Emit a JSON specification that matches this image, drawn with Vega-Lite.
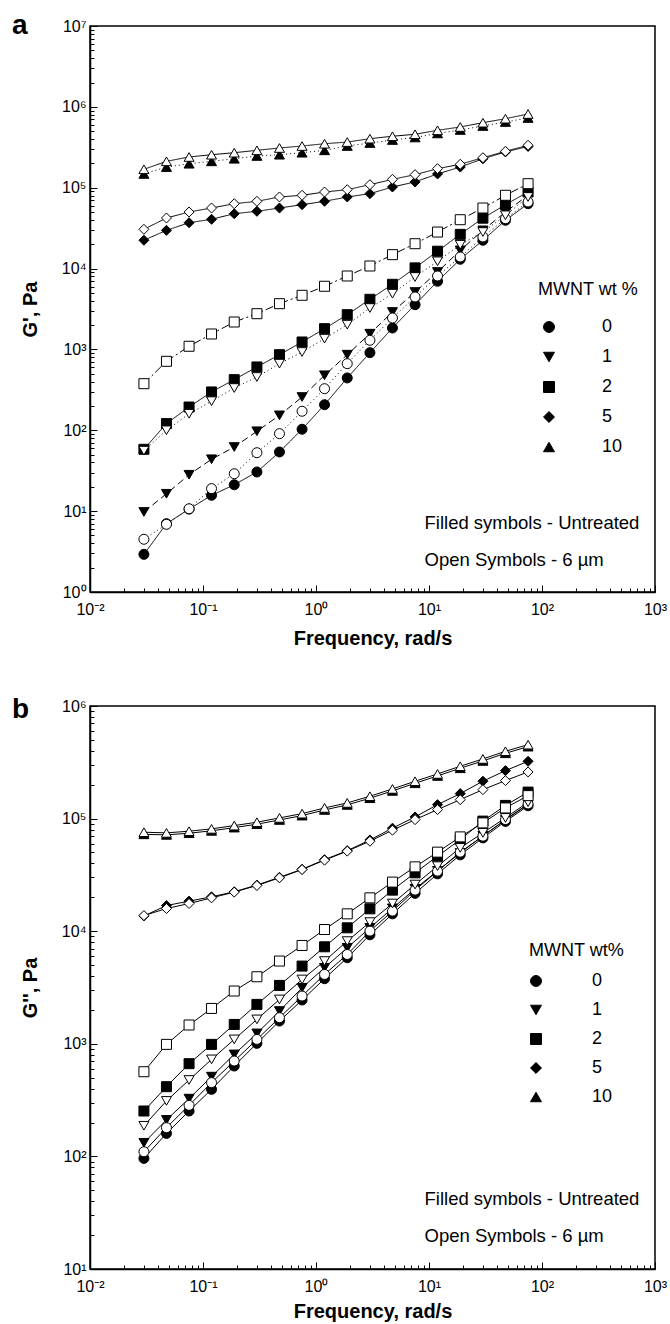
{
"$schema": "https://vega.github.io/schema/vega-lite/v6.json",
"background": "white",
"padding": {"left": 11, "top": 11, "right": 2, "bottom": 2},
"spacing": 46,
"config": {
  "view": {"stroke": "black", "strokeWidth": 1.5},
  "font": "Liberation Sans",
  "axis": {"labelFont": "Liberation Sans", "labelFontSize": 16, "labelColor": "black", "titleFont": "Liberation Sans", "titleFontSize": 20, "titleFontWeight": "bold", "titleColor": "black", "domainColor": "black", "domainWidth": 1.5, "tickColor": "black", "tickWidth": 1, "grid": false, "labelOverlap": false, "labelFlush": false},
  "legend": {"titleFont": "Liberation Sans", "labelFont": "Liberation Sans", "titleColor": "black", "labelColor": "black", "titleFontWeight": "normal", "padding": 0}
},
"datasets": {
"a": [
{"series":"0U","wt":"0","sym":"Untreated","f":0.03,"G":2.92},{"series":"0U","wt":"0","sym":"Untreated","f":0.0475,"G":7.0},{"series":"0U","wt":"0","sym":"Untreated","f":0.0753,"G":10.6},{"series":"0U","wt":"0","sym":"Untreated","f":0.119,"G":15.7},{"series":"0U","wt":"0","sym":"Untreated","f":0.189,"G":21.2},{"series":"0U","wt":"0","sym":"Untreated","f":0.3,"G":30.5},{"series":"0U","wt":"0","sym":"Untreated","f":0.475,"G":53.9},{"series":"0U","wt":"0","sym":"Untreated","f":0.753,"G":103},{"series":"0U","wt":"0","sym":"Untreated","f":1.19,"G":207},{"series":"0U","wt":"0","sym":"Untreated","f":1.89,"G":444},{"series":"0U","wt":"0","sym":"Untreated","f":3,"G":912},{"series":"0U","wt":"0","sym":"Untreated","f":4.75,"G":1841},{"series":"0U","wt":"0","sym":"Untreated","f":7.53,"G":3574},{"series":"0U","wt":"0","sym":"Untreated","f":11.9,"G":6966},{"series":"0U","wt":"0","sym":"Untreated","f":18.9,"G":13030},{"series":"0U","wt":"0","sym":"Untreated","f":30,"G":22390},{"series":"0U","wt":"0","sym":"Untreated","f":47.5,"G":39550},{"series":"0U","wt":"0","sym":"Untreated","f":75.3,"G":63440},
{"series":"1U","wt":"1","sym":"Untreated","f":0.03,"G":9.77},{"series":"1U","wt":"1","sym":"Untreated","f":0.0475,"G":16.4},{"series":"1U","wt":"1","sym":"Untreated","f":0.0753,"G":28.2},{"series":"1U","wt":"1","sym":"Untreated","f":0.119,"G":43.8},{"series":"1U","wt":"1","sym":"Untreated","f":0.189,"G":62.1},{"series":"1U","wt":"1","sym":"Untreated","f":0.3,"G":97.2},{"series":"1U","wt":"1","sym":"Untreated","f":0.475,"G":153},{"series":"1U","wt":"1","sym":"Untreated","f":0.753,"G":258},{"series":"1U","wt":"1","sym":"Untreated","f":1.19,"G":479},{"series":"1U","wt":"1","sym":"Untreated","f":1.89,"G":861},{"series":"1U","wt":"1","sym":"Untreated","f":3,"G":1566},{"series":"1U","wt":"1","sym":"Untreated","f":4.75,"G":2904},{"series":"1U","wt":"1","sym":"Untreated","f":7.53,"G":5130},{"series":"1U","wt":"1","sym":"Untreated","f":11.9,"G":9070},{"series":"1U","wt":"1","sym":"Untreated","f":18.9,"G":16800},{"series":"1U","wt":"1","sym":"Untreated","f":30,"G":29700},{"series":"1U","wt":"1","sym":"Untreated","f":47.5,"G":50100},{"series":"1U","wt":"1","sym":"Untreated","f":75.3,"G":80600},
{"series":"2U","wt":"2","sym":"Untreated","f":0.03,"G":58.2},{"series":"2U","wt":"2","sym":"Untreated","f":0.0475,"G":121},{"series":"2U","wt":"2","sym":"Untreated","f":0.0753,"G":194},{"series":"2U","wt":"2","sym":"Untreated","f":0.119,"G":298},{"series":"2U","wt":"2","sym":"Untreated","f":0.189,"G":423},{"series":"2U","wt":"2","sym":"Untreated","f":0.3,"G":607},{"series":"2U","wt":"2","sym":"Untreated","f":0.475,"G":861},{"series":"2U","wt":"2","sym":"Untreated","f":0.753,"G":1236},{"series":"2U","wt":"2","sym":"Untreated","f":1.19,"G":1806},{"series":"2U","wt":"2","sym":"Untreated","f":1.89,"G":2690},{"series":"2U","wt":"2","sym":"Untreated","f":3,"G":4170},{"series":"2U","wt":"2","sym":"Untreated","f":4.75,"G":6390},{"series":"2U","wt":"2","sym":"Untreated","f":7.53,"G":10200},{"series":"2U","wt":"2","sym":"Untreated","f":11.9,"G":16400},{"series":"2U","wt":"2","sym":"Untreated","f":18.9,"G":26500},{"series":"2U","wt":"2","sym":"Untreated","f":30,"G":42000},{"series":"2U","wt":"2","sym":"Untreated","f":47.5,"G":61700},{"series":"2U","wt":"2","sym":"Untreated","f":75.3,"G":88500},
{"series":"5U","wt":"5","sym":"Untreated","f":0.03,"G":22400},{"series":"5U","wt":"5","sym":"Untreated","f":0.0475,"G":29700},{"series":"5U","wt":"5","sym":"Untreated","f":0.0753,"G":36900},{"series":"5U","wt":"5","sym":"Untreated","f":0.119,"G":40700},{"series":"5U","wt":"5","sym":"Untreated","f":0.189,"G":47700},{"series":"5U","wt":"5","sym":"Untreated","f":0.3,"G":51100},{"series":"5U","wt":"5","sym":"Untreated","f":0.475,"G":56100},{"series":"5U","wt":"5","sym":"Untreated","f":0.753,"G":61700},{"series":"5U","wt":"5","sym":"Untreated","f":1.19,"G":67900},{"series":"5U","wt":"5","sym":"Untreated","f":1.89,"G":76800},{"series":"5U","wt":"5","sym":"Untreated","f":3,"G":84400},{"series":"5U","wt":"5","sym":"Untreated","f":4.75,"G":102000},{"series":"5U","wt":"5","sym":"Untreated","f":7.53,"G":118000},{"series":"5U","wt":"5","sym":"Untreated","f":11.9,"G":148000},{"series":"5U","wt":"5","sym":"Untreated","f":18.9,"G":180000},{"series":"5U","wt":"5","sym":"Untreated","f":30,"G":228000},{"series":"5U","wt":"5","sym":"Untreated","f":47.5,"G":277000},{"series":"5U","wt":"5","sym":"Untreated","f":75.3,"G":324000},
{"series":"10U","wt":"10","sym":"Untreated","f":0.03,"G":148000},{"series":"10U","wt":"10","sym":"Untreated","f":0.0475,"G":180000},{"series":"10U","wt":"10","sym":"Untreated","f":0.0753,"G":198000},{"series":"10U","wt":"10","sym":"Untreated","f":0.119,"G":212000},{"series":"10U","wt":"10","sym":"Untreated","f":0.189,"G":228000},{"series":"10U","wt":"10","sym":"Untreated","f":0.3,"G":247000},{"series":"10U","wt":"10","sym":"Untreated","f":0.475,"G":256000},{"series":"10U","wt":"10","sym":"Untreated","f":0.753,"G":271000},{"series":"10U","wt":"10","sym":"Untreated","f":1.19,"G":290000},{"series":"10U","wt":"10","sym":"Untreated","f":1.89,"G":328000},{"series":"10U","wt":"10","sym":"Untreated","f":3,"G":357000},{"series":"10U","wt":"10","sym":"Untreated","f":4.75,"G":389000},{"series":"10U","wt":"10","sym":"Untreated","f":7.53,"G":418000},{"series":"10U","wt":"10","sym":"Untreated","f":11.9,"G":469000},{"series":"10U","wt":"10","sym":"Untreated","f":18.9,"G":518000},{"series":"10U","wt":"10","sym":"Untreated","f":30,"G":580000},{"series":"10U","wt":"10","sym":"Untreated","f":47.5,"G":650000},{"series":"10U","wt":"10","sym":"Untreated","f":75.3,"G":728000},
{"series":"0O","wt":"0","sym":"6 µm","f":0.03,"G":4.49},{"series":"0O","wt":"0","sym":"6 µm","f":0.0475,"G":6.87},{"series":"0O","wt":"0","sym":"6 µm","f":0.0753,"G":10.7},{"series":"0O","wt":"0","sym":"6 µm","f":0.119,"G":19.0},{"series":"0O","wt":"0","sym":"6 µm","f":0.189,"G":29.0},{"series":"0O","wt":"0","sym":"6 µm","f":0.3,"G":52.8},{"series":"0O","wt":"0","sym":"6 µm","f":0.475,"G":90.8},{"series":"0O","wt":"0","sym":"6 µm","f":0.753,"G":172},{"series":"0O","wt":"0","sym":"6 µm","f":1.19,"G":327},{"series":"0O","wt":"0","sym":"6 µm","f":1.89,"G":667},{"series":"0O","wt":"0","sym":"6 µm","f":3,"G":1297},{"series":"0O","wt":"0","sym":"6 µm","f":4.75,"G":2449},{"series":"0O","wt":"0","sym":"6 µm","f":7.53,"G":4456},{"series":"0O","wt":"0","sym":"6 µm","f":11.9,"G":8095},{"series":"0O","wt":"0","sym":"6 µm","f":18.9,"G":13900},{"series":"0O","wt":"0","sym":"6 µm","f":30,"G":24600},{"series":"0O","wt":"0","sym":"6 µm","f":47.5,"G":41400},{"series":"0O","wt":"0","sym":"6 µm","f":75.3,"G":66600},
{"series":"1O","wt":"1","sym":"6 µm","f":0.03,"G":56},{"series":"1O","wt":"1","sym":"6 µm","f":0.0475,"G":100},{"series":"1O","wt":"1","sym":"6 µm","f":0.0753,"G":160},{"series":"1O","wt":"1","sym":"6 µm","f":0.119,"G":229},{"series":"1O","wt":"1","sym":"6 µm","f":0.189,"G":333},{"series":"1O","wt":"1","sym":"6 µm","f":0.3,"G":456},{"series":"1O","wt":"1","sym":"6 µm","f":0.475,"G":667},{"series":"1O","wt":"1","sym":"6 µm","f":0.753,"G":929},{"series":"1O","wt":"1","sym":"6 µm","f":1.19,"G":1358},{"series":"1O","wt":"1","sym":"6 µm","f":1.89,"G":2023},{"series":"1O","wt":"1","sym":"6 µm","f":3,"G":3252},{"series":"1O","wt":"1","sym":"6 µm","f":4.75,"G":4890},{"series":"1O","wt":"1","sym":"6 µm","f":7.53,"G":7870},{"series":"1O","wt":"1","sym":"6 µm","f":11.9,"G":12300},{"series":"1O","wt":"1","sym":"6 µm","f":18.9,"G":19700},{"series":"1O","wt":"1","sym":"6 µm","f":30,"G":28300},{"series":"1O","wt":"1","sym":"6 µm","f":47.5,"G":45600},{"series":"1O","wt":"1","sym":"6 µm","f":75.3,"G":76800},
{"series":"2O","wt":"2","sym":"6 µm","f":0.03,"G":377},{"series":"2O","wt":"2","sym":"6 µm","f":0.0475,"G":713},{"series":"2O","wt":"2","sym":"6 µm","f":0.0753,"G":1094},{"series":"2O","wt":"2","sym":"6 µm","f":0.119,"G":1552},{"series":"2O","wt":"2","sym":"6 µm","f":0.189,"G":2183},{"series":"2O","wt":"2","sym":"6 µm","f":0.3,"G":2767},{"series":"2O","wt":"2","sym":"6 µm","f":0.475,"G":3680},{"series":"2O","wt":"2","sym":"6 µm","f":0.753,"G":4673},{"series":"2O","wt":"2","sym":"6 µm","f":1.19,"G":6040},{"series":"2O","wt":"2","sym":"6 µm","f":1.89,"G":8095},{"series":"2O","wt":"2","sym":"6 µm","f":3,"G":10760},{"series":"2O","wt":"2","sym":"6 µm","f":4.75,"G":14860},{"series":"2O","wt":"2","sym":"6 µm","f":7.53,"G":20300},{"series":"2O","wt":"2","sym":"6 µm","f":11.9,"G":28300},{"series":"2O","wt":"2","sym":"6 µm","f":18.9,"G":40200},{"series":"2O","wt":"2","sym":"6 µm","f":30,"G":56100},{"series":"2O","wt":"2","sym":"6 µm","f":47.5,"G":80600},{"series":"2O","wt":"2","sym":"6 µm","f":75.3,"G":112200},
{"series":"5O","wt":"5","sym":"6 µm","f":0.03,"G":30600},{"series":"5O","wt":"5","sym":"6 µm","f":0.0475,"G":42200},{"series":"5O","wt":"5","sym":"6 µm","f":0.0753,"G":50100},{"series":"5O","wt":"5","sym":"6 µm","f":0.119,"G":56100},{"series":"5O","wt":"5","sym":"6 µm","f":0.189,"G":63400},{"series":"5O","wt":"5","sym":"6 µm","f":0.3,"G":67900},{"series":"5O","wt":"5","sym":"6 µm","f":0.475,"G":76800},{"series":"5O","wt":"5","sym":"6 µm","f":0.753,"G":80600},{"series":"5O","wt":"5","sym":"6 µm","f":1.19,"G":88500},{"series":"5O","wt":"5","sym":"6 µm","f":1.89,"G":94600},{"series":"5O","wt":"5","sym":"6 µm","f":3,"G":109000},{"series":"5O","wt":"5","sym":"6 µm","f":4.75,"G":127000},{"series":"5O","wt":"5","sym":"6 µm","f":7.53,"G":145000},{"series":"5O","wt":"5","sym":"6 µm","f":11.9,"G":172000},{"series":"5O","wt":"5","sym":"6 µm","f":18.9,"G":195000},{"series":"5O","wt":"5","sym":"6 µm","f":30,"G":235000},{"series":"5O","wt":"5","sym":"6 µm","f":47.5,"G":282000},{"series":"5O","wt":"5","sym":"6 µm","f":75.3,"G":335000},
{"series":"10O","wt":"10","sym":"6 µm","f":0.03,"G":169000},{"series":"10O","wt":"10","sym":"6 µm","f":0.0475,"G":212000},{"series":"10O","wt":"10","sym":"6 µm","f":0.0753,"G":240000},{"series":"10O","wt":"10","sym":"6 µm","f":0.119,"G":256000},{"series":"10O","wt":"10","sym":"6 µm","f":0.189,"G":271000},{"series":"10O","wt":"10","sym":"6 µm","f":0.3,"G":290000},{"series":"10O","wt":"10","sym":"6 µm","f":0.475,"G":310000},{"series":"10O","wt":"10","sym":"6 µm","f":0.753,"G":328000},{"series":"10O","wt":"10","sym":"6 µm","f":1.19,"G":350000},{"series":"10O","wt":"10","sym":"6 µm","f":1.89,"G":367000},{"series":"10O","wt":"10","sym":"6 µm","f":3,"G":404000},{"series":"10O","wt":"10","sym":"6 µm","f":4.75,"G":433000},{"series":"10O","wt":"10","sym":"6 µm","f":7.53,"G":458000},{"series":"10O","wt":"10","sym":"6 µm","f":11.9,"G":513000},{"series":"10O","wt":"10","sym":"6 µm","f":18.9,"G":564000},{"series":"10O","wt":"10","sym":"6 µm","f":30,"G":637000},{"series":"10O","wt":"10","sym":"6 µm","f":47.5,"G":714000},{"series":"10O","wt":"10","sym":"6 µm","f":75.3,"G":816000}
],
"b": [
{"series":"0U","wt":"0","sym":"Untreated","f":0.03,"G":96},{"series":"0U","wt":"0","sym":"Untreated","f":0.0475,"G":160},{"series":"0U","wt":"0","sym":"Untreated","f":0.0753,"G":253},{"series":"0U","wt":"0","sym":"Untreated","f":0.119,"G":394},{"series":"0U","wt":"0","sym":"Untreated","f":0.189,"G":635},{"series":"0U","wt":"0","sym":"Untreated","f":0.3,"G":1009},{"series":"0U","wt":"0","sym":"Untreated","f":0.475,"G":1592},{"series":"0U","wt":"0","sym":"Untreated","f":0.753,"G":2449},{"series":"0U","wt":"0","sym":"Untreated","f":1.19,"G":3784},{"series":"0U","wt":"0","sym":"Untreated","f":1.89,"G":5810},{"series":"0U","wt":"0","sym":"Untreated","f":3,"G":9290},{"series":"0U","wt":"0","sym":"Untreated","f":4.75,"G":14260},{"series":"0U","wt":"0","sym":"Untreated","f":7.53,"G":21680},{"series":"0U","wt":"0","sym":"Untreated","f":11.9,"G":32300},{"series":"0U","wt":"0","sym":"Untreated","f":18.9,"G":47640},{"series":"0U","wt":"0","sym":"Untreated","f":30,"G":67400},{"series":"0U","wt":"0","sym":"Untreated","f":47.5,"G":94400},{"series":"0U","wt":"0","sym":"Untreated","f":75.3,"G":130000},
{"series":"1U","wt":"1","sym":"Untreated","f":0.03,"G":132},{"series":"1U","wt":"1","sym":"Untreated","f":0.0475,"G":211},{"series":"1U","wt":"1","sym":"Untreated","f":0.0753,"G":326},{"series":"1U","wt":"1","sym":"Untreated","f":0.119,"G":511},{"series":"1U","wt":"1","sym":"Untreated","f":0.189,"G":805},{"series":"1U","wt":"1","sym":"Untreated","f":0.3,"G":1237},{"series":"1U","wt":"1","sym":"Untreated","f":0.475,"G":1954},{"series":"1U","wt":"1","sym":"Untreated","f":0.753,"G":3145},{"series":"1U","wt":"1","sym":"Untreated","f":1.19,"G":4733},{"series":"1U","wt":"1","sym":"Untreated","f":1.89,"G":7120},{"series":"1U","wt":"1","sym":"Untreated","f":3,"G":10720},{"series":"1U","wt":"1","sym":"Untreated","f":4.75,"G":15960},{"series":"1U","wt":"1","sym":"Untreated","f":7.53,"G":23780},{"series":"1U","wt":"1","sym":"Untreated","f":11.9,"G":34360},{"series":"1U","wt":"1","sym":"Untreated","f":18.9,"G":49640},{"series":"1U","wt":"1","sym":"Untreated","f":30,"G":70300},{"series":"1U","wt":"1","sym":"Untreated","f":47.5,"G":97300},{"series":"1U","wt":"1","sym":"Untreated","f":75.3,"G":134000},
{"series":"2U","wt":"2","sym":"Untreated","f":0.03,"G":253},{"series":"2U","wt":"2","sym":"Untreated","f":0.0475,"G":416},{"series":"2U","wt":"2","sym":"Untreated","f":0.0753,"G":666},{"series":"2U","wt":"2","sym":"Untreated","f":0.119,"G":988},{"series":"2U","wt":"2","sym":"Untreated","f":0.189,"G":1486},{"series":"2U","wt":"2","sym":"Untreated","f":0.3,"G":2239},{"series":"2U","wt":"2","sym":"Untreated","f":0.475,"G":3300},{"series":"2U","wt":"2","sym":"Untreated","f":0.753,"G":4900},{"series":"2U","wt":"2","sym":"Untreated","f":1.19,"G":7270},{"series":"2U","wt":"2","sym":"Untreated","f":1.89,"G":10720},{"series":"2U","wt":"2","sym":"Untreated","f":3,"G":15800},{"series":"2U","wt":"2","sym":"Untreated","f":4.75,"G":23160},{"series":"2U","wt":"2","sym":"Untreated","f":7.53,"G":32980},{"series":"2U","wt":"2","sym":"Untreated","f":11.9,"G":46400},{"series":"2U","wt":"2","sym":"Untreated","f":18.9,"G":65000},{"series":"2U","wt":"2","sym":"Untreated","f":30,"G":95000},{"series":"2U","wt":"2","sym":"Untreated","f":47.5,"G":131000},{"series":"2U","wt":"2","sym":"Untreated","f":75.3,"G":172000},
{"series":"5U","wt":"5","sym":"Untreated","f":0.03,"G":13650},{"series":"5U","wt":"5","sym":"Untreated","f":0.0475,"G":16900},{"series":"5U","wt":"5","sym":"Untreated","f":0.0753,"G":18500},{"series":"5U","wt":"5","sym":"Untreated","f":0.119,"G":20200},{"series":"5U","wt":"5","sym":"Untreated","f":0.189,"G":22400},{"series":"5U","wt":"5","sym":"Untreated","f":0.3,"G":25700},{"series":"5U","wt":"5","sym":"Untreated","f":0.475,"G":30100},{"series":"5U","wt":"5","sym":"Untreated","f":0.753,"G":35500},{"series":"5U","wt":"5","sym":"Untreated","f":1.19,"G":43200},{"series":"5U","wt":"5","sym":"Untreated","f":1.89,"G":51900},{"series":"5U","wt":"5","sym":"Untreated","f":3,"G":64600},{"series":"5U","wt":"5","sym":"Untreated","f":4.75,"G":82200},{"series":"5U","wt":"5","sym":"Untreated","f":7.53,"G":103500},{"series":"5U","wt":"5","sym":"Untreated","f":11.9,"G":133000},{"series":"5U","wt":"5","sym":"Untreated","f":18.9,"G":166700},{"series":"5U","wt":"5","sym":"Untreated","f":30,"G":214800},{"series":"5U","wt":"5","sym":"Untreated","f":47.5,"G":266700},{"series":"5U","wt":"5","sym":"Untreated","f":75.3,"G":322800},
{"series":"10U","wt":"10","sym":"Untreated","f":0.03,"G":72500},{"series":"10U","wt":"10","sym":"Untreated","f":0.0475,"G":71700},{"series":"10U","wt":"10","sym":"Untreated","f":0.0753,"G":74200},{"series":"10U","wt":"10","sym":"Untreated","f":0.119,"G":77900},{"series":"10U","wt":"10","sym":"Untreated","f":0.189,"G":83200},{"series":"10U","wt":"10","sym":"Untreated","f":0.3,"G":89200},{"series":"10U","wt":"10","sym":"Untreated","f":0.475,"G":97300},{"series":"10U","wt":"10","sym":"Untreated","f":0.753,"G":106300},{"series":"10U","wt":"10","sym":"Untreated","f":1.19,"G":119400},{"series":"10U","wt":"10","sym":"Untreated","f":1.89,"G":132300},{"series":"10U","wt":"10","sym":"Untreated","f":3,"G":151700},{"series":"10U","wt":"10","sym":"Untreated","f":4.75,"G":176200},{"series":"10U","wt":"10","sym":"Untreated","f":7.53,"G":206000},{"series":"10U","wt":"10","sym":"Untreated","f":11.9,"G":239300},{"series":"10U","wt":"10","sym":"Untreated","f":18.9,"G":280000},{"series":"10U","wt":"10","sym":"Untreated","f":30,"G":325200},{"series":"10U","wt":"10","sym":"Untreated","f":47.5,"G":380400},{"series":"10U","wt":"10","sym":"Untreated","f":75.3,"G":435500},
{"series":"0O","wt":"0","sym":"6 µm","f":0.03,"G":110},{"series":"0O","wt":"0","sym":"6 µm","f":0.0475,"G":180},{"series":"0O","wt":"0","sym":"6 µm","f":0.0753,"G":284},{"series":"0O","wt":"0","sym":"6 µm","f":0.119,"G":452},{"series":"0O","wt":"0","sym":"6 µm","f":0.189,"G":703},{"series":"0O","wt":"0","sym":"6 µm","f":0.3,"G":1094},{"series":"0O","wt":"0","sym":"6 µm","f":0.475,"G":1706},{"series":"0O","wt":"0","sym":"6 µm","f":0.753,"G":2655},{"series":"0O","wt":"0","sym":"6 µm","f":1.19,"G":4130},{"series":"0O","wt":"0","sym":"6 µm","f":1.89,"G":6210},{"series":"0O","wt":"0","sym":"6 µm","f":3,"G":10020},{"series":"0O","wt":"0","sym":"6 µm","f":4.75,"G":15080},{"series":"0O","wt":"0","sym":"6 µm","f":7.53,"G":23160},{"series":"0O","wt":"0","sym":"6 µm","f":11.9,"G":34140},{"series":"0O","wt":"0","sym":"6 µm","f":18.9,"G":50350},{"series":"0O","wt":"0","sym":"6 µm","f":30,"G":69800},{"series":"0O","wt":"0","sym":"6 µm","f":47.5,"G":98000},{"series":"0O","wt":"0","sym":"6 µm","f":75.3,"G":135000},
{"series":"1O","wt":"1","sym":"6 µm","f":0.03,"G":187},{"series":"1O","wt":"1","sym":"6 µm","f":0.0475,"G":311},{"series":"1O","wt":"1","sym":"6 µm","f":0.0753,"G":477},{"series":"1O","wt":"1","sym":"6 µm","f":0.119,"G":727},{"series":"1O","wt":"1","sym":"6 µm","f":0.189,"G":1094},{"series":"1O","wt":"1","sym":"6 µm","f":0.3,"G":1647},{"series":"1O","wt":"1","sym":"6 µm","f":0.475,"G":2477},{"series":"1O","wt":"1","sym":"6 µm","f":0.753,"G":3726},{"series":"1O","wt":"1","sym":"6 µm","f":1.19,"G":5430},{"series":"1O","wt":"1","sym":"6 µm","f":1.89,"G":8170},{"series":"1O","wt":"1","sym":"6 µm","f":3,"G":12040},{"series":"1O","wt":"1","sym":"6 µm","f":4.75,"G":17610},{"series":"1O","wt":"1","sym":"6 µm","f":7.53,"G":25960},{"series":"1O","wt":"1","sym":"6 µm","f":11.9,"G":37830},{"series":"1O","wt":"1","sym":"6 µm","f":18.9,"G":54950},{"series":"1O","wt":"1","sym":"6 µm","f":30,"G":74700},{"series":"1O","wt":"1","sym":"6 µm","f":47.5,"G":101400},{"series":"1O","wt":"1","sym":"6 µm","f":75.3,"G":140000},
{"series":"2O","wt":"2","sym":"6 µm","f":0.03,"G":565},{"series":"2O","wt":"2","sym":"6 µm","f":0.0475,"G":988},{"series":"2O","wt":"2","sym":"6 µm","f":0.0753,"G":1469},{"series":"2O","wt":"2","sym":"6 µm","f":0.119,"G":2061},{"series":"2O","wt":"2","sym":"6 µm","f":0.189,"G":2942},{"series":"2O","wt":"2","sym":"6 µm","f":0.3,"G":3940},{"series":"2O","wt":"2","sym":"6 µm","f":0.475,"G":5430},{"series":"2O","wt":"2","sym":"6 µm","f":0.753,"G":7470},{"series":"2O","wt":"2","sym":"6 µm","f":1.19,"G":10350},{"series":"2O","wt":"2","sym":"6 µm","f":1.89,"G":14260},{"series":"2O","wt":"2","sym":"6 µm","f":3,"G":19780},{"series":"2O","wt":"2","sym":"6 µm","f":4.75,"G":27290},{"series":"2O","wt":"2","sym":"6 µm","f":7.53,"G":37270},{"series":"2O","wt":"2","sym":"6 µm","f":11.9,"G":50350},{"series":"2O","wt":"2","sym":"6 µm","f":18.9,"G":68800},{"series":"2O","wt":"2","sym":"6 µm","f":30,"G":91600},{"series":"2O","wt":"2","sym":"6 µm","f":47.5,"G":124400},{"series":"2O","wt":"2","sym":"6 µm","f":75.3,"G":160000},
{"series":"5O","wt":"5","sym":"6 µm","f":0.03,"G":13770},{"series":"5O","wt":"5","sym":"6 µm","f":0.0475,"G":15890},{"series":"5O","wt":"5","sym":"6 µm","f":0.0753,"G":17610},{"series":"5O","wt":"5","sym":"6 µm","f":0.119,"G":19780},{"series":"5O","wt":"5","sym":"6 µm","f":0.189,"G":22230},{"series":"5O","wt":"5","sym":"6 µm","f":0.3,"G":25460},{"series":"5O","wt":"5","sym":"6 µm","f":0.475,"G":29780},{"series":"5O","wt":"5","sym":"6 µm","f":0.753,"G":35270},{"series":"5O","wt":"5","sym":"6 µm","f":1.19,"G":42760},{"series":"5O","wt":"5","sym":"6 µm","f":1.89,"G":51400},{"series":"5O","wt":"5","sym":"6 µm","f":3,"G":62950},{"series":"5O","wt":"5","sym":"6 µm","f":4.75,"G":78890},{"series":"5O","wt":"5","sym":"6 µm","f":7.53,"G":97950},{"series":"5O","wt":"5","sym":"6 µm","f":11.9,"G":120200},{"series":"5O","wt":"5","sym":"6 µm","f":18.9,"G":147400},{"series":"5O","wt":"5","sym":"6 µm","f":30,"G":180800},{"series":"5O","wt":"5","sym":"6 µm","f":47.5,"G":217500},{"series":"5O","wt":"5","sym":"6 µm","f":75.3,"G":259600},
{"series":"10O","wt":"10","sym":"6 µm","f":0.03,"G":75700},{"series":"10O","wt":"10","sym":"6 µm","f":0.0475,"G":74700},{"series":"10O","wt":"10","sym":"6 µm","f":0.0753,"G":77300},{"series":"10O","wt":"10","sym":"6 µm","f":0.119,"G":81100},{"series":"10O","wt":"10","sym":"6 µm","f":0.189,"G":86700},{"series":"10O","wt":"10","sym":"6 µm","f":0.3,"G":92900},{"series":"10O","wt":"10","sym":"6 µm","f":0.475,"G":101400},{"series":"10O","wt":"10","sym":"6 µm","f":0.753,"G":110700},{"series":"10O","wt":"10","sym":"6 µm","f":1.19,"G":124400},{"series":"10O","wt":"10","sym":"6 µm","f":1.89,"G":137800},{"series":"10O","wt":"10","sym":"6 µm","f":3,"G":158000},{"series":"10O","wt":"10","sym":"6 µm","f":4.75,"G":183500},{"series":"10O","wt":"10","sym":"6 µm","f":7.53,"G":214600},{"series":"10O","wt":"10","sym":"6 µm","f":11.9,"G":249300},{"series":"10O","wt":"10","sym":"6 µm","f":18.9,"G":291700},{"series":"10O","wt":"10","sym":"6 µm","f":30,"G":338800},{"series":"10O","wt":"10","sym":"6 µm","f":47.5,"G":396300},{"series":"10O","wt":"10","sym":"6 µm","f":75.3,"G":453600}
]
},
"vconcat": [
{
  "width": 565, "height": 566,
  "title": {"text": "a", "anchor": "start", "frame": "group", "dx": -78, "dy": 36, "offset": 0, "baseline": "middle", "fontSize": 28, "fontWeight": "bold", "font": "Liberation Sans", "color": "black"},
  "data": {"name": "a"},
  "layer": [
    {"mark": {"type": "line", "stroke": "black", "strokeWidth": 1},
     "encoding": {
       "x": {"field": "f", "type": "quantitative", "scale": {"type": "log", "domain": [0.01, 1000], "nice": false},
             "axis": {"title": "Frequency, rad/s", "values": [0.01,0.02,0.03,0.04,0.05,0.06,0.07,0.08,0.09,0.1,0.2,0.3,0.4,0.5,0.6,0.7,0.8,0.9,1,2,3,4,5,6,7,8,9,10,20,30,40,50,60,70,80,90,100,200,300,400,500,600,700,800,900,1000],
                      "labelExpr": "abs(log(datum.value)/LN10 - round(log(datum.value)/LN10)) < 0.001 ? '10' + (round(log(datum.value)/LN10) < 0 ? '⁻' : '') + substring('⁰¹²³⁴⁵⁶⁷⁸⁹', abs(round(log(datum.value)/LN10)), abs(round(log(datum.value)/LN10)) + 1) : ''",
                      "tickSize": {"condition": {"test": "abs(log(datum.value)/LN10 - round(log(datum.value)/LN10)) < 0.001", "value": -7}, "value": -4},
                      "labelPadding": 16, "titlePadding": 8}},
       "y": {"field": "G", "type": "quantitative", "scale": {"type": "log", "domain": [1, 10000000], "nice": false},
             "axis": {"title": "G', Pa", "values": [1,2,3,4,5,6,7,8,9,10,20,30,40,50,60,70,80,90,100,200,300,400,500,600,700,800,900,1000,2000,3000,4000,5000,6000,7000,8000,9000,10000,20000,30000,40000,50000,60000,70000,80000,90000,100000,200000,300000,400000,500000,600000,700000,800000,900000,1000000,2000000,3000000,4000000,5000000,6000000,7000000,8000000,9000000,10000000],
                      "labelExpr": "abs(log(datum.value)/LN10 - round(log(datum.value)/LN10)) < 0.001 ? '10' + (round(log(datum.value)/LN10) < 0 ? '⁻' : '') + substring('⁰¹²³⁴⁵⁶⁷⁸⁹', abs(round(log(datum.value)/LN10)), abs(round(log(datum.value)/LN10)) + 1) : ''",
                      "tickSize": {"condition": {"test": "abs(log(datum.value)/LN10 - round(log(datum.value)/LN10)) < 0.001", "value": -7}, "value": -4},
                      "labelPadding": 11, "titlePadding": 21}},
       "strokeDash": {"field": "series", "type": "nominal", "scale": {"domain": ["0U","0O","1U","1O","2U","2O","5U","5O","10U","10O"], "range": [[1,0],[1,3],[7,4],[1,3],[1,0],[8,3,2,3],[1,0],[1,0],[1,3],[1,0]]}, "legend": null}
     }},
    {"mark": {"type": "point", "filled": true, "opacity": 1, "stroke": "black", "strokeWidth": 1},
     "encoding": {
       "x": {"field": "f", "type": "quantitative"},
       "y": {"field": "G", "type": "quantitative"},
       "shape": {"field": "wt", "type": "nominal", "scale": {"domain": ["0","1","2","5","10"], "range": ["circle","triangle-down","square","diamond","triangle-up"]},
                 "legend": {"title": "MWNT wt %", "orient": "none", "legendX": 448, "legendY": 255, "symbolSize": 120, "symbolFillColor": "black", "symbolStrokeColor": "black", "symbolStrokeWidth": 1, "symbolOffset": 2, "labelOffset": 44, "rowPadding": 12, "titlePadding": 19, "titleFontSize": 18, "labelFontSize": 18}},
       "fill": {"field": "sym", "type": "nominal", "scale": {"domain": ["Untreated","6 µm"], "range": ["black","white"]},
                "legend": {"title": null, "orient": "none", "legendX": 316, "legendY": 488, "symbolSize": 0, "symbolOpacity": 0, "symbolStrokeWidth": 0, "labelOffset": 0, "labelFontSize": 18.5, "rowPadding": 18, "labelLimit": 400, "labelExpr": "datum.label == 'Untreated' ? 'Filled symbols - Untreated' : 'Open Symbols - 6 µm'"}},
       "size": {"field": "series", "type": "nominal", "scale": {"domain": ["0U","0O","1U","1O","2U","2O","5U","5O","10U","10O"], "range": [100,100,110,110,100,100,150,150,120,120]}, "legend": null}
     }}
  ]
},
{
  "width": 565, "height": 563,
  "title": {"text": "b", "anchor": "start", "frame": "group", "dx": -78, "offset": 0, "dy": 40, "baseline": "middle", "fontSize": 28, "fontWeight": "bold", "font": "Liberation Sans", "color": "black"},
  "data": {"name": "b"},
  "layer": [
    {"mark": {"type": "line", "stroke": "black", "strokeWidth": 1},
     "encoding": {
       "x": {"field": "f", "type": "quantitative", "scale": {"type": "log", "domain": [0.01, 1000], "nice": false},
             "axis": {"title": "Frequency, rad/s", "values": [0.01,0.02,0.03,0.04,0.05,0.06,0.07,0.08,0.09,0.1,0.2,0.3,0.4,0.5,0.6,0.7,0.8,0.9,1,2,3,4,5,6,7,8,9,10,20,30,40,50,60,70,80,90,100,200,300,400,500,600,700,800,900,1000],
                      "labelExpr": "abs(log(datum.value)/LN10 - round(log(datum.value)/LN10)) < 0.001 ? '10' + (round(log(datum.value)/LN10) < 0 ? '⁻' : '') + substring('⁰¹²³⁴⁵⁶⁷⁸⁹', abs(round(log(datum.value)/LN10)), abs(round(log(datum.value)/LN10)) + 1) : ''",
                      "tickSize": {"condition": {"test": "abs(log(datum.value)/LN10 - round(log(datum.value)/LN10)) < 0.001", "value": -7}, "value": -4},
                      "labelPadding": 16, "titlePadding": 4}},
       "y": {"field": "G", "type": "quantitative", "scale": {"type": "log", "domain": [10, 1000000], "nice": false},
             "axis": {"title": "G'', Pa", "values": [10,20,30,40,50,60,70,80,90,100,200,300,400,500,600,700,800,900,1000,2000,3000,4000,5000,6000,7000,8000,9000,10000,20000,30000,40000,50000,60000,70000,80000,90000,100000,200000,300000,400000,500000,600000,700000,800000,900000,1000000],
                      "labelExpr": "abs(log(datum.value)/LN10 - round(log(datum.value)/LN10)) < 0.001 ? '10' + (round(log(datum.value)/LN10) < 0 ? '⁻' : '') + substring('⁰¹²³⁴⁵⁶⁷⁸⁹', abs(round(log(datum.value)/LN10)), abs(round(log(datum.value)/LN10)) + 1) : ''",
                      "tickSize": {"condition": {"test": "abs(log(datum.value)/LN10 - round(log(datum.value)/LN10)) < 0.001", "value": -7}, "value": -4},
                      "labelPadding": 11, "titlePadding": 21}},
       "detail": {"field": "series", "type": "nominal"}
     }},
    {"mark": {"type": "point", "filled": true, "opacity": 1, "stroke": "black", "strokeWidth": 1},
     "encoding": {
       "x": {"field": "f", "type": "quantitative"},
       "y": {"field": "G", "type": "quantitative"},
       "shape": {"field": "wt", "type": "nominal", "scale": {"domain": ["0","1","2","5","10"], "range": ["circle","triangle-down","square","diamond","triangle-up"]},
                 "legend": {"title": "MWNT wt%", "orient": "none", "legendX": 439, "legendY": 236, "symbolSize": 120, "symbolFillColor": "black", "symbolStrokeColor": "black", "symbolStrokeWidth": 1, "symbolOffset": -2, "labelOffset": 47, "rowPadding": 11, "titlePadding": 12, "titleFontSize": 18, "labelFontSize": 18}},
       "fill": {"field": "sym", "type": "nominal", "scale": {"domain": ["Untreated","6 µm"], "range": ["black","white"]},
                "legend": {"title": null, "orient": "none", "legendX": 316, "legendY": 484, "symbolSize": 0, "symbolOpacity": 0, "symbolStrokeWidth": 0, "labelOffset": 0, "labelFontSize": 18.5, "rowPadding": 18, "labelLimit": 400, "labelExpr": "datum.label == 'Untreated' ? 'Filled symbols - Untreated' : 'Open Symbols - 6 µm'"}},
       "size": {"field": "series", "type": "nominal", "scale": {"domain": ["0U","0O","1U","1O","2U","2O","5U","5O","10U","10O"], "range": [100,100,110,110,100,100,150,150,120,120]}, "legend": null}
     }}
  ]
}
],
"resolve": {"scale": {"x": "independent", "y": "independent", "shape": "independent", "fill": "independent", "size": "independent"}, "legend": {"shape": "independent", "fill": "independent"}}
}
